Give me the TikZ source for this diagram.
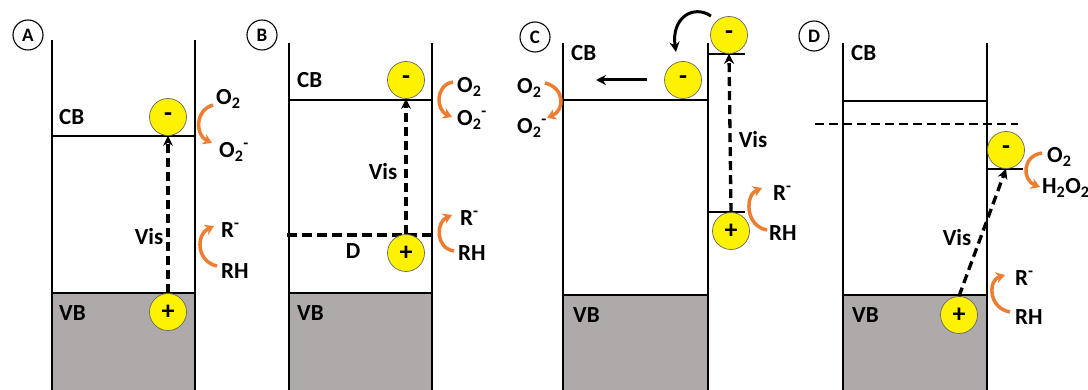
\documentclass[tikz,border=0pt]{standalone}
\usepackage{fontspec}
\setmainfont{Carlito}
\usetikzlibrary{arrows.meta}
\definecolor{vbgray}{RGB}{174,170,170}
\definecolor{rxorange}{RGB}{237,125,49}
\begin{document}
\begin{tikzpicture}[x=1pt,y=-1pt,
 wall/.style={line width=2.3pt},
 level/.style={line width=2.2pt},
 carrier/.style={circle,draw=black!60,line width=0.7pt,fill=yellow,minimum size=37pt,inner sep=0pt,font=\fontsize{26}{26}\selectfont\bfseries},
 txt/.style={font=\fontsize{23}{25}\selectfont\bfseries,inner sep=0pt},
 chem/.style={txt,anchor=west},
 tag/.style={circle,draw,line width=1.1pt,minimum size=30pt,inner sep=0pt,font=\fontsize{19}{19}\selectfont\bfseries},
 excite/.style={line width=3.3pt,dash pattern=on 9pt off 5pt,-{Stealth[length=10pt,width=10pt]}},
 rx/.style={draw=rxorange,line width=3.5pt,-{Stealth[length=9pt,width=11pt]}},
 move/.style={line width=3pt,-{Stealth[length=10pt,width=10pt]}}
]
\useasboundingbox (0,0) rectangle (1088,390);
% ---------- Panel A ----------
\fill[vbgray] (52,293) rectangle (195,390);
\draw[wall] (52,40) -- (52,390);
\draw[wall] (195,40) -- (195,390);
\draw[level] (52,136) -- (195,136);
\draw[level] (52,293) -- (195,293);
\node[tag] (tA) at (28,35) {A};
\node[chem] (cbA) at (59,117) {CB};
\node[chem] (vbA) at (59,313) {VB};
\node[carrier] (eA) at (168,117) {-};
\node[carrier] (hA) at (168,312) {+};
\draw[excite] (hA.north) -- (eA.south);
\node[txt] (visA) at (149,237) {Vis};
\node[chem] (oA) at (216,99) {O\textsubscript{2}};
\node[chem] (orA) at (219,152) {O\textsubscript{2}\textsuperscript{-}};
\node[chem] (rA) at (221,230) {R\textsuperscript{-}};
\node[chem] (rhA) at (221,271) {RH};
\draw[rx] (213,105) .. controls (195,110) and (195,135) .. (212,143);
\draw[rx] (217,266) .. controls (197,262) and (195,235) .. (214,226);
% ---------- Panel B ----------
\fill[vbgray] (289,293) rectangle (432,390);
\draw[wall] (289,43) -- (289,390);
\draw[wall] (432,43) -- (432,390);
\draw[level] (289,100) -- (432,100);
\draw[level] (289,293) -- (432,293);
\draw[line width=3.2pt,dash pattern=on 10pt off 5pt] (287,235) -- (432,235);
\node[tag] (tB) at (262,35) {B};
\node[chem] (cbB) at (297,80) {CB};
\node[chem] (vbB) at (297,313) {VB};
\node[txt] (dB) at (353,251) {D};
\node[carrier] (eB) at (406,80) {-};
\node[carrier] (hB) at (406,253) {+};
\draw[excite] (hB.north) -- (eB.south);
\node[txt] (visB) at (383,172) {Vis};
\node[chem] (oB) at (457,87) {O\textsubscript{2}};
\node[chem] (orB) at (457,120) {O\textsubscript{2}\textsuperscript{-}};
\node[chem] (rB) at (460,218) {R\textsuperscript{-}};
\node[chem] (rhB) at (458,253) {RH};
\draw[rx] (453,82) .. controls (435,85) and (436,110) .. (452,117);
\draw[rx] (454,251) .. controls (435,248) and (436,222) .. (452,215);
% ---------- Panel C ----------
\fill[vbgray] (563,295) rectangle (708,390);
\draw[wall] (563,43) -- (563,390);
\draw[wall] (708,43) -- (708,390);
\draw[level] (563,100) -- (708,100);
\draw[level] (563,295) -- (708,295);
\draw[level] (708,54) -- (745,54);
\draw[level] (708,212) -- (745,212);
\node[tag] (tC) at (535,37) {C};
\node[chem] (cbC) at (571,53) {CB};
\node[chem] (vbC) at (573,315) {VB};
\node[carrier] (eC1) at (683,80) {-};
\node[carrier] (eC2) at (729,35) {-};
\node[carrier] (hC) at (731,231) {+};
\draw[excite] (hC.north) -- (eC2.south);
\node[txt] (visC) at (753,140) {Vis};
\draw[move] (711,16) .. controls (693,4) and (671,18) .. (676,52);
\draw[move] (647,80) -- (596,80);
\node[chem] (oC) at (517,88) {O\textsubscript{2}};
\node[chem] (orC) at (517,128) {O\textsubscript{2}\textsuperscript{-}};
\node[chem] (rC) at (773,193) {R\textsuperscript{-}};
\node[chem] (rhC) at (769,233) {RH};
\draw[rx] (545,83) .. controls (565,88) and (565,110) .. (547,118);
\draw[rx] (767,230) .. controls (745,226) and (745,195) .. (762,188);
% ---------- Panel D ----------
\fill[vbgray] (843,295) rectangle (987,390);
\draw[wall] (843,43) -- (843,390);
\draw[wall] (987,43) -- (987,390);
\draw[level] (843,101) -- (987,101);
\draw[level] (843,295) -- (987,295);
\draw[line width=2.6pt,dash pattern=on 9pt off 5pt] (815,124) -- (1018,124);
\draw[level] (987,169) -- (1023,169);
\node[tag] (tD) at (814,36) {D};
\node[chem] (cbD) at (851,53) {CB};
\node[chem] (vbD) at (852,315) {VB};
\node[carrier] (eD) at (1006,150) {-};
\node[carrier] (hD) at (959,315) {+};
\draw[excite] (hD.north) -- (eD.south);
\node[txt] (visD) at (957,238) {Vis};
\node[chem] (oD) at (1047,157) {O\textsubscript{2}};
\node[chem] (hoD) at (1042,188) {H\textsubscript{2}O\textsubscript{2}};
\node[chem] (rD) at (1015,278) {R\textsuperscript{-}};
\node[chem] (rhD) at (1015,317) {RH};
\draw[rx] (1042,153) .. controls (1022,156) and (1022,180) .. (1040,187);
\draw[rx] (1010,312) .. controls (988,308) and (988,280) .. (1005,275);
\end{tikzpicture}
\end{document}
